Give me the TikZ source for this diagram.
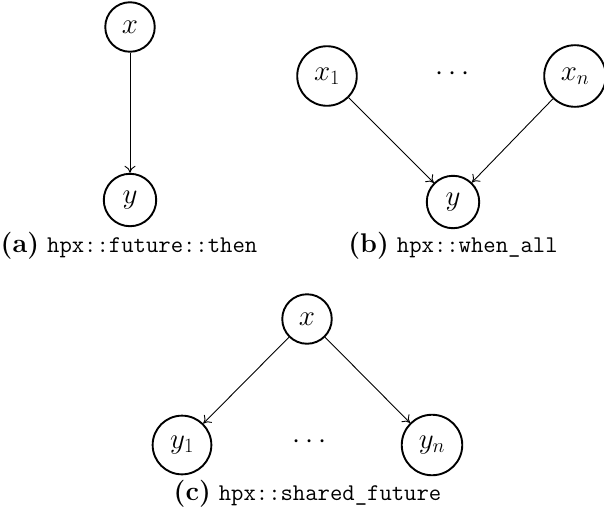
\RequirePackage{fix-cm}
\documentclass[tikz,border=0pt]{standalone}
\usepackage{fontspec}
\usetikzlibrary{arrows.meta}
\tikzset{
  vert/.style={circle,draw,line width=1.9pt,inner sep=10.3pt,font=\fontsize{29}{31}\selectfont},
  dotsnode/.style={inner sep=0pt,font=\fontsize{29}{31}\selectfont},
  arr/.style={line width=0.9pt,-{To[length=7pt,width=11pt]}},
  captext/.style={anchor=base,inner sep=0pt}
}
\newcommand{\capl}[1]{{\fontsize{27}{30}\selectfont\rmfamily\bfseries(#1)}}
\newcommand{\capt}[1]{{\fontsize{24}{26}\selectfont\ttfamily #1}}
\begin{document}
\begin{tikzpicture}[x=1pt,y=-1pt]
\useasboundingbox (0,0) rectangle (604,514);
% (a)
\node[vert] (xa) at (130,27) {$x$};
\node[vert] (ya) at (130,200) {$y$};
\draw[arr] (xa) -- (ya);
\node[captext] (capa) at (129,252) {\capl{a}\hspace{8pt}\capt{hpx::future::then}};
% (b)
\node[vert] (x1) at (327,76) {$x_1$};
\node[vert] (xn) at (575,76) {$x_n$};
\node[dotsnode] (db) at (450,76) {$\vphantom{x_1}\cdots$};
\node[vert] (yb) at (453,202) {$y$};
\draw[arr] (x1) -- (yb);
\draw[arr] (xn) -- (yb);
\node[captext] (capb) at (453,252) {\capl{b}\hspace{8pt}\capt{hpx::when\_all}};
% (c)
\node[vert] (xc) at (307,319) {$x$};
\node[vert] (y1) at (182,445) {$y_1$};
\node[vert] (yn) at (432,445) {$y_n$};
\node[dotsnode] (dc) at (307,445) {$\vphantom{y_1}\cdots$};
\draw[arr] (xc) -- (y1);
\draw[arr] (xc) -- (yn);
\node[captext] (capc) at (307.5,500) {\capl{c}\hspace{8pt}\capt{hpx::shared\_future}};
\end{tikzpicture}
\end{document}
